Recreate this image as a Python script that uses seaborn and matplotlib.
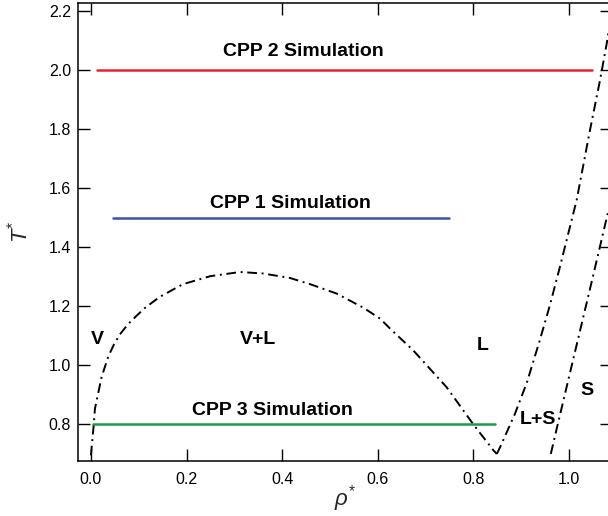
import matplotlib
matplotlib.use("Agg")
import matplotlib.pyplot as plt
import numpy as np
import pandas as pd
import seaborn as sns

# Vapour-liquid coexistence curve (binodal)
vl_rho = [0.0, 0.006, 0.0084, 0.0223, 0.0363, 0.048, 0.0607, 0.078, 0.0956,
          0.112, 0.130, 0.1444, 0.179, 0.193, 0.25, 0.312, 0.36, 0.416, 0.46,
          0.514, 0.57, 0.605, 0.626, 0.674, 0.744, 0.80, 0.842, 0.849]
vl_T = [0.695, 0.80, 0.853, 0.960, 1.030, 1.070, 1.105, 1.140, 1.168,
        1.193, 1.215, 1.232, 1.263, 1.275, 1.302, 1.316, 1.311, 1.296, 1.274,
        1.243, 1.195, 1.158, 1.124, 1.051, 0.926, 0.80, 0.712, 0.700]

# Freezing (liquid side) and melting (solid side) lines
liq_rho = [0.849, 0.856, 0.887, 0.912, 0.939, 0.960, 0.981, 1.016, 1.044,
           1.065, 1.079, 1.090]
liq_T = [0.700, 0.723, 0.836, 0.942, 1.085, 1.203, 1.333, 1.559, 1.797,
         1.966, 2.090, 2.203]
sol_rho = [0.962, 0.975, 1.0, 1.025, 1.05, 1.079, 1.09]
sol_T = [0.700, 0.79, 0.96, 1.13, 1.30, 1.50, 1.575]

# Simulation state paths (isotherms)
sim_names = ["CPP 2 Simulation", "CPP 1 Simulation", "CPP 3 Simulation"]
sim_T = [2.0, 1.5, 0.8]
sim_rho_start = [0.0126, 0.046, 0.004]
sim_rho_end = [1.048, 0.749, 0.845]
sim_colors = ["#e8232c", "#3b52a4", "#1c9a4a"]
sim_label_rho = [0.4446, 0.417, 0.380]
sim_label_T = [2.047, 1.532, 0.8305]

# Phase-region labels
region_names = ["V", "V+L", "L", "L+S", "S"]
region_rho = [0.0135, 0.350, 0.820, 0.935, 1.038]
region_T = [1.071, 1.071, 1.051, 0.800, 0.898]

x_ticks = [0.0, 0.2, 0.4, 0.6, 0.8, 1.0]
y_ticks = [0.8, 1.0, 1.2, 1.4, 1.6, 1.8, 2.0, 2.2]

sns.set_theme(style="ticks")
plt.rcParams["font.family"] = ["Liberation Sans", "DejaVu Sans"]
plt.rcParams["mathtext.fontset"] = "custom"
plt.rcParams["mathtext.rm"] = "Liberation Sans"
plt.rcParams["mathtext.it"] = "Liberation Sans:italic"

fig = plt.figure(figsize=(6.08, 5.16), dpi=100)
ax = fig.add_axes([78 / 608, 1 - 461 / 516, (612 - 78) / 608, (461 - 3) / 516])

dashdot = (0, (5, 2.4, 1, 2.4))
for rr, tt in [(vl_rho, vl_T), (liq_rho, liq_T), (sol_rho, sol_T)]:
    df = pd.DataFrame({"rho": rr, "T": tt})
    sns.lineplot(data=df, x="rho", y="T", ax=ax, color="black", lw=1.4,
                 linestyle=dashdot, sort=False, estimator=None)

for name, T, r0, r1, c, lx, ly in zip(sim_names, sim_T, sim_rho_start, sim_rho_end,
                                      sim_colors, sim_label_rho, sim_label_T):
    df = pd.DataFrame({"rho": [r0, r1], "T": [T, T]})
    sns.lineplot(data=df, x="rho", y="T", ax=ax, color=c, lw=1.8,
                 sort=False, estimator=None)
    ax.text(lx, ly, name, fontsize=14, fontweight="bold", ha="center",
            va="baseline", color="black")

for name, r, T in zip(region_names, region_rho, region_T):
    ax.text(r, T, name, fontsize=14, fontweight="bold", ha="center",
            va="baseline", color="black")

ax.set_xlim(-0.027, 1.090)
ax.set_ylim(0.676, 2.227)
ax.set_xticks(x_ticks)
ax.set_xticklabels([f"{v:.1f}" for v in x_ticks])
ax.set_yticks(y_ticks)
ax.set_yticklabels([f"{v:.1f}" for v in y_ticks])
ax.tick_params(direction="in", length=8.5, width=1.0, labelsize=11.5,
               top=True, right=True, color="black", labelcolor="black")
ax.tick_params(axis="x", pad=8)
ax.tick_params(axis="y", pad=5)
for s in ax.spines.values():
    s.set_visible(True)
    s.set_linewidth(1.1)
    s.set_color("black")

ax.set_xlabel(r"$\rho^{*}$", fontsize=16, labelpad=-3)
ax.set_ylabel(r"$T^{*}$", fontsize=16, labelpad=12)

fig.savefig("out.png", dpi=100)
